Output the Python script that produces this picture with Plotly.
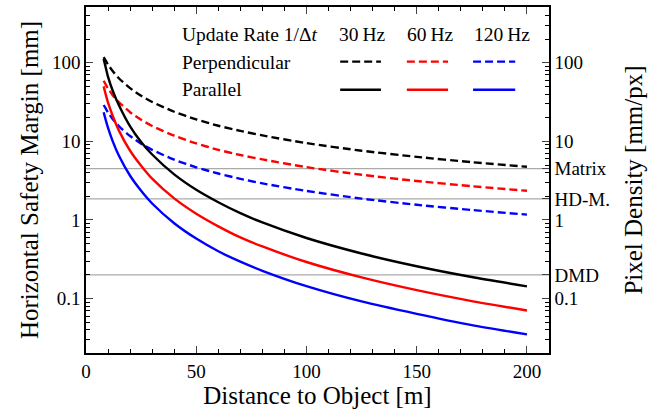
import plotly.graph_objects as go

# ---- data ----
distance_m = [8, 9, 10, 12, 15, 20, 25, 30, 40, 50, 60, 70, 80, 100, 125, 150, 175, 200]

perp_30 = [118, 106, 95, 79, 63, 47.5, 38, 31.7, 23.8, 19, 15.8, 13.6, 11.9, 9.5, 7.6, 6.35, 5.43, 4.75]
perp_60 = [59, 52.5, 47, 39, 31.3, 23.5, 18.8, 15.7, 11.8, 9.4, 7.8, 6.7, 5.9, 4.7, 3.76, 3.13, 2.69, 2.35]
perp_120 = [29, 26, 23.3, 19.4, 15.5, 11.7, 9.35, 7.8, 5.85, 4.68, 3.9, 3.34, 2.92, 2.34, 1.87, 1.56, 1.34, 1.17]

par_30 = [112, 86, 66, 45, 28.5, 15.5, 9.8, 6.8, 3.8, 2.42, 1.68, 1.22, 0.93, 0.59, 0.375, 0.258, 0.188, 0.143]
par_60 = [50, 39, 31, 21.5, 13.6, 7.6, 4.9, 3.35, 1.88, 1.2, 0.83, 0.6, 0.46, 0.292, 0.186, 0.128, 0.093, 0.0705]
par_120 = [23.5, 18.5, 14.8, 10.2, 6.5, 3.65, 2.35, 1.62, 0.91, 0.58, 0.40, 0.295, 0.226, 0.144, 0.092, 0.064, 0.046, 0.035]

rates = ["30\u2009Hz", "60\u2009Hz", "120\u2009Hz"]
colors = ["black", "#ff0000", "#0000ff"]

ref_names = ["Matrix", "HD-M.", "DMD"]
ref_density = [4.5, 1.85, 0.2]

x_ticks = [0, 50, 100, 150, 200]
y_ticks = [0.1, 1, 10, 100]
y_ticktext = ["0.1", "1", "10", "100"]

FONT = "Liberation Serif"
LW = 2.4
LEG = 19.5
DASH = "8px,4px"

fig = go.Figure()
for vals, col in zip([perp_30, perp_60, perp_120], colors):
    fig.add_trace(go.Scatter(x=distance_m, y=vals, mode="lines",
                             line=dict(color=col, width=LW, dash=DASH, shape="spline", smoothing=0.6),
                             showlegend=False, hoverinfo="skip"))
for vals, col in zip([par_30, par_60, par_120], colors):
    fig.add_trace(go.Scatter(x=distance_m, y=vals, mode="lines",
                             line=dict(color=col, width=LW, shape="spline", smoothing=0.6),
                             showlegend=False, hoverinfo="skip"))

# right axis dummy trace so that y2 is drawn
fig.add_trace(go.Scatter(x=[None], y=[None], yaxis="y2", showlegend=False))

yr = [-1.692, 2.709]
minor_vals = [m * 10 ** d for d in range(-2, 3) for m in range(2, 10)]

# reference lines
for v in ref_density:
    fig.add_shape(type="line", xref="paper", x0=0, x1=1, yref="y", y0=v, y1=v,
                  line=dict(color="#aaaaaa", width=1.2), layer="below")

# custom legend
lx = 0.203
fig.add_annotation(text="Update Rate 1/Δ<i>t</i>", xref="paper", yref="paper", x=lx, y=0.921,
                   xanchor="left", yanchor="middle", showarrow=False, font=dict(family=FONT, size=LEG, color="black"))
fig.add_annotation(text="Perpendicular", xref="paper", yref="paper", x=lx, y=0.839,
                   xanchor="left", yanchor="middle", showarrow=False, font=dict(family=FONT, size=LEG, color="black"))
fig.add_annotation(text="Parallel", xref="paper", yref="paper", x=lx, y=0.761,
                   xanchor="left", yanchor="middle", showarrow=False, font=dict(family=FONT, size=LEG, color="black"))
leg_centers = [0.596, 0.743, 0.898]
leg_spans = [(0.549, 0.637), (0.693, 0.782), (0.836, 0.927)]
for name, col, c, (a, b) in zip(rates, colors, leg_centers, leg_spans):
    fig.add_annotation(text=name, xref="paper", yref="paper", x=c, y=0.921, xanchor="center",
                       yanchor="middle", showarrow=False, font=dict(family=FONT, size=LEG, color="black"))
    fig.add_shape(type="line", xref="paper", yref="paper", x0=a, x1=b, y0=0.842, y1=0.842,
                  line=dict(color=col, width=LW, dash=DASH))
    fig.add_shape(type="line", xref="paper", yref="paper", x0=a, x1=b, y0=0.761, y1=0.761,
                  line=dict(color=col, width=LW))

tickfont = dict(family=FONT, size=19, color="black")
TITLE = 25
fig.update_layout(
    width=670, height=418,
    margin=dict(l=86, r=121, t=5, b=65),
    paper_bgcolor="white", plot_bgcolor="white",
    font=dict(family=FONT, color="black"),
    xaxis=dict(range=[0, 210], tickvals=x_ticks, ticks="inside", ticklen=7, tickwidth=1.2,
               showline=True, linecolor="black", linewidth=1.5, mirror="ticks",
               showgrid=False, zeroline=False, tickfont=tickfont,
               minor=dict(dtick=10, ticks="inside", ticklen=4, tickwidth=1, tickcolor="black", showgrid=False),
               title=dict(text="Distance to Object [m]", font=dict(family=FONT, size=TITLE), standoff=4)),
    yaxis=dict(type="log", range=yr, tickvals=y_ticks, ticktext=y_ticktext, ticks="inside", ticklen=7,
               tickwidth=1.2, showline=True, linecolor="black", linewidth=1.5, showgrid=False, zeroline=False,
               tickfont=tickfont,
               minor=dict(tickvals=minor_vals, ticks="inside", ticklen=4, tickwidth=1, tickcolor="black", showgrid=False),
               title=dict(text="Horizontal Safety Margin [mm]", font=dict(family=FONT, size=TITLE), standoff=6)),
    yaxis2=dict(type="log", range=yr, overlaying="y", side="right",
                tickvals=y_ticks + ref_density, ticktext=y_ticktext + ref_names,
                ticks="inside", ticklen=7, tickwidth=1.2, showline=True, linecolor="black", linewidth=1.5,
                showgrid=False, zeroline=False, tickfont=tickfont,
                minor=dict(tickvals=minor_vals, ticks="inside", ticklen=4, tickwidth=1, tickcolor="black", showgrid=False),
                title=dict(text="Pixel Density [mm/px]", font=dict(family=FONT, size=TITLE), standoff=16)),
)

fig.write_html("out.html")
